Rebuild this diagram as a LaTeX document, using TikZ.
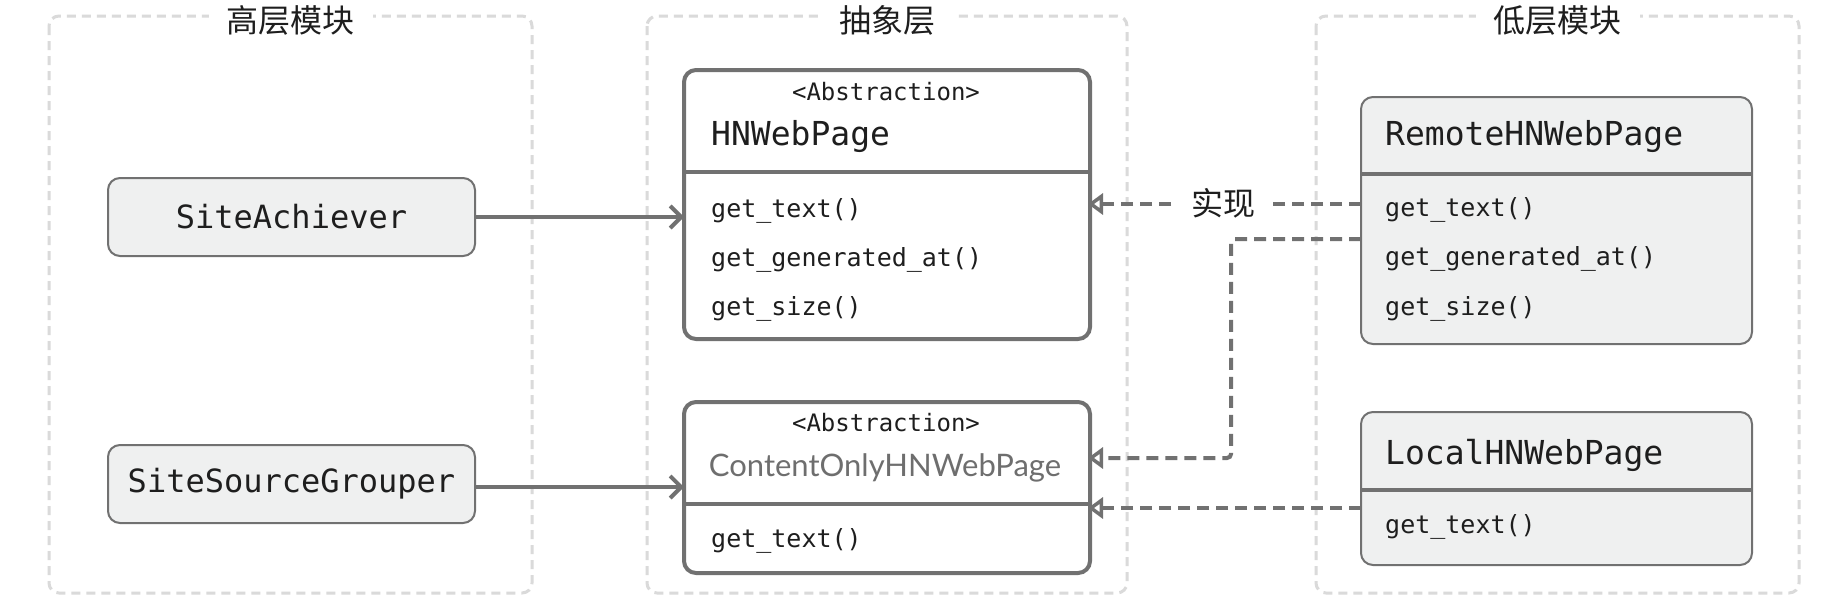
\documentclass[tikz,border=0pt]{standalone}
\usepackage{fontspec}
\setmonofont{DejaVu Sans Mono}
\newfontfamily\cjkfont{Noto Sans CJK SC}
\newfontfamily\latofont{Lato}
\usetikzlibrary{arrows.meta}
\definecolor{grp}{HTML}{DADADA}
\definecolor{edge}{HTML}{717171}
\definecolor{boxfill}{HTML}{EFF0F0}
\definecolor{txt}{HTML}{1E1E1E}
\definecolor{nmgray}{HTML}{6E6E6E}
\begin{document}
\begin{tikzpicture}[x=1pt,y=-1pt,
 grpbox/.style={draw=grp, line width=3pt, dash pattern=on 9pt off 6pt, rounded corners=10pt},
 grptitle/.style={fill=white, inner xsep=18pt, inner ysep=2pt, font=\cjkfont\fontsize{32}{34}\selectfont, text=txt},
 midbox/.style={draw=edge, line width=4pt, fill=white, rounded corners=12pt, outer sep=0pt},
 implbox/.style={draw=edge, line width=2pt, fill=boxfill, rounded corners=12pt, outer sep=0pt},
 sepline/.style={draw=edge, line width=4pt},
 clsname/.style={font=\ttfamily\fontsize{33}{36}\selectfont, text=txt, anchor=west, inner sep=0pt},
 meth/.style={font=\ttfamily\fontsize{25}{28}\selectfont, text=txt, anchor=west, inner sep=0pt},
 stereo/.style={font=\ttfamily\fontsize{24}{28}\selectfont, text=txt, inner sep=0pt},
 uses/.style={draw=edge, line width=4pt, -{Straight Barb[length=11pt,width=22pt,line width=4pt]}},
 realizes/.style={draw=edge, line width=4pt, dash pattern=on 12pt off 7pt, rounded corners=4pt, -{Triangle[open,length=15pt,width=21pt,line width=3.5pt]}},
 lbl/.style={fill=white, inner xsep=18pt, inner ysep=4pt, font=\cjkfont\fontsize{32}{34}\selectfont, text=txt},
]
\useasboundingbox[fill=white] (0,0) rectangle (1847,611);

% groups
\draw[grpbox] (49,16) rectangle (532,593);
\draw[grpbox] (647,16) rectangle (1127,593);
\draw[grpbox] (1316,16) rectangle (1799,593);

% high-level modules
\node[implbox, minimum width=367pt, minimum height=78pt, font=\ttfamily\fontsize{32}{36}\selectfont, text=txt] (sa) at (291.5,217) {SiteAchiever};
\node[implbox, minimum width=367pt, minimum height=78pt, font=\ttfamily\fontsize{32}{36}\selectfont, text=txt] (ssg) at (291.5,484) {SiteSourceGrouper};

% abstraction layer
\node[midbox, minimum width=406pt, minimum height=269pt] (hn) at (887,204.5) {};
\draw[sepline] (hn.west |- 0,172) -- (hn.east |- 0,172);
\node[stereo] (hnst) at (886,92) {<Abstraction>};
\node[clsname] (hnnm) at (711,137) {HNWebPage};
\node[meth] (hnm1) at (711,211) {get\_text()};
\node[meth] (hnm2) at (711,260) {get\_generated\_at()};
\node[meth] (hnm3) at (711,309) {get\_size()};

\node[midbox, minimum width=406pt, minimum height=171pt] (co) at (887,487.5) {};
\draw[sepline] (co.west |- 0,504) -- (co.east |- 0,504);
\node[stereo] (cost) at (886,423) {<Abstraction>};
\node[inner sep=0pt, font=\latofont\fontsize{31}{36}\selectfont, text=nmgray] (conm) at (885,468) {ContentOnlyHNWebPage};
\node[meth] (com1) at (711,541) {get\_text()};

% low-level modules
\node[implbox, minimum width=391pt, minimum height=247pt] (rm) at (1556.5,220.5) {};
\draw[sepline] (rm.west |- 0,174) -- (rm.east |- 0,174);
\node[clsname] (rmnm) at (1385,137) {RemoteHNWebPage};
\node[meth] (rmm1) at (1385,210) {get\_text()};
\node[meth] (rmm2) at (1385,259) {get\_generated\_at()};
\node[meth] (rmm3) at (1385,309) {get\_size()};

\node[implbox, minimum width=391pt, minimum height=153pt] (lc) at (1556.5,488.5) {};
\draw[sepline] (lc.west |- 0,490) -- (lc.east |- 0,490);
\node[clsname] (lcnm) at (1385,455) {LocalHNWebPage};
\node[meth] (lcm1) at (1385,527) {get\_text()};

% connectors
\draw[uses] (sa.east) -- (sa.east -| hn.west);
\coordinate (s2) at ([yshift=-3pt]ssg.east);
\draw[uses] (s2) -- (s2 -| co.west);

\coordinate (r1) at ([yshift=16.5pt]rm.west);
\draw[realizes, shorten >=-2pt] (r1) -- (r1 -| hn.east);
\node[lbl] (impl) at (1223,203) {实现};

\coordinate (r2) at ([yshift=-18.5pt]rm.west);
\coordinate (c1) at ([yshift=29.5pt]co.east);
\coordinate (bend) at (1231,300);
\draw[realizes, shorten >=-2pt] (r2) -- (r2 -| bend) -- (bend |- c1) -- (c1);

\coordinate (l1) at ([yshift=-19.5pt]lc.west);
\draw[realizes, shorten >=-2pt] (l1) -- (l1 -| co.east);

% titles
\node[grptitle] (t1) at (290.5,20) {高层模块};
\node[grptitle] (t2) at (887,20) {抽象层};
\node[grptitle] (t3) at (1557.5,20) {低层模块};
\end{tikzpicture}
\end{document}
